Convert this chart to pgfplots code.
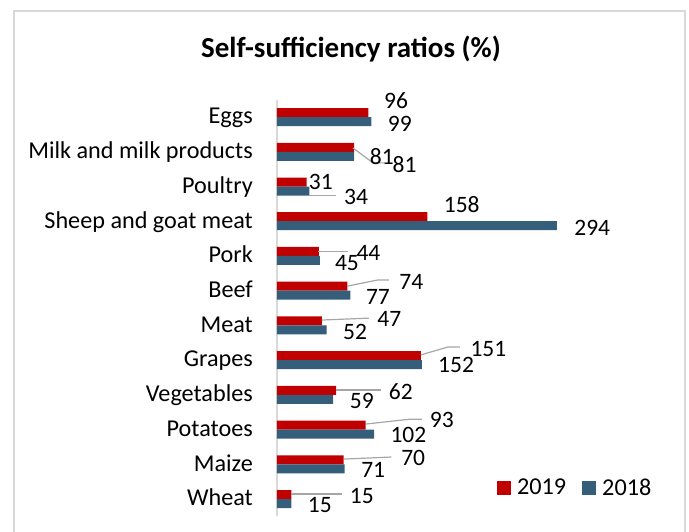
\documentclass[border=0pt]{standalone}
\usepackage{fontspec}
\setmainfont{Carlito}
\usepackage{pgfplots}
\pgfplotsset{compat=1.18}
\definecolor{cred}{RGB}{192,0,0}
\definecolor{cblue}{RGB}{53,94,122}
\definecolor{framegray}{RGB}{217,217,217}
\definecolor{leadgray}{RGB}{166,166,166}
\begin{document}
\begin{tikzpicture}[x=1pt,y=1pt]
\useasboundingbox (0,0) rectangle (689,531);
\draw[framegray, line width=2pt] (14,-10) -- (14,520) -- (685,520) -- (685,-10);
\node[font=\fontsize{29}{34}\selectfont\bfseries] at (351,482) {Self-sufficiency ratios (\%)};
\begin{axis}[
  at={(277pt,14.6pt)}, anchor=south west,
  scale only axis, width=285.7pt, height=416.7pt,
  xmin=0, xmax=300, ymin=-0.5, ymax=11.5,
  xbar, bar width=9pt,
  axis x line=none, axis y line=left,
  y axis line style={draw=framegray, line width=2pt, -},
  ytick={0,...,11},
  yticklabels={Wheat,Maize,Potatoes,Vegetables,Grapes,Meat,Beef,Pork,Sheep and goat meat,Poultry,Milk and milk products,Eggs},
  major tick length=0pt,
  yticklabel style={font=\fontsize{24.2}{29}\selectfont, anchor=base east, inner sep=0pt, xshift=-24pt, yshift=-6.8pt},
  clip=false,
  legend columns=2,
  legend style={at={(axis cs:231,0.33)}, anchor=west, draw=none, fill=none, inner sep=0pt,
    font=\fontsize{24.2}{29}\selectfont,
    nodes={inner xsep=0pt, inner ysep=0pt},
    /tikz/every even column/.append style={column sep=16pt}},
  legend image code/.code={\fill[#1] (0pt,-7pt) rectangle (14pt,7pt); \path (20pt,0pt);},
]
\addplot[fill=cred, draw=none, bar shift=4.5pt] coordinates {
 (15,0) (70,1) (93,2) (62,3) (151,4) (47,5) (74,6) (44,7) (158,8) (31,9) (81,10) (96,11)};
\addplot[fill=cblue, draw=none, bar shift=-4.5pt] coordinates {
 (15,0) (71,1) (102,2) (59,3) (152,4) (52,5) (77,6) (45,7) (294,8) (34,9) (81,10) (99,11)};
\legend{2019,2018}
% leader lines
\begin{scope}[leadgray, line width=1.2pt]
\draw (axis cs:79.8,10.11) -- (axis cs:100.8,9.68) -- (axis cs:113.4,9.68);
\draw (axis cs:33.6,8.73) -- (axis cs:62,8.73);
\draw (axis cs:43,7.14) -- (axis cs:74.6,7.14);
\draw (axis cs:73.5,6.13) -- (axis cs:106,6.31) -- (axis cs:117.6,6.31);
\draw (axis cs:47,5.155) -- (axis cs:96.6,5.21);
\draw (axis cs:151,4.15) -- (axis cs:179.6,4.38) -- (axis cs:192,4.38);
\draw (axis cs:62,3.14) -- (axis cs:109,3.14);
\draw (axis cs:93.5,2.16) -- (axis cs:139.7,2.30) -- (axis cs:152,2.30);
\draw (axis cs:70,1.15) -- (axis cs:120,1.21);
\draw (axis cs:14.7,0.145) -- (axis cs:68,0.145);
\end{scope}
% data labels
\begin{scope}[every node/.style={font=\fontsize{23.5}{28}\selectfont, inner sep=0pt}]
\node at (axis cs:125,11.46) {96};
\node at (axis cs:129,10.81) {99};
\node at (axis cs:110,9.85) {81};
\node at (axis cs:134,9.62) {81};
\node at (axis cs:46,9.13) {31};
\node at (axis cs:83,8.70) {34};
\node at (axis cs:194,8.47) {158};
\node at (axis cs:331,7.80) {294};
\node at (axis cs:96,7.08) {44};
\node at (axis cs:73.5,6.80) {45};
\node at (axis cs:141,6.25) {74};
\node at (axis cs:106,5.82) {77};
\node at (axis cs:118,5.18) {47};
\node at (axis cs:82,4.81) {52};
\node at (axis cs:222,4.32) {151};
\node at (axis cs:188,3.86) {152};
\node at (axis cs:130,3.08) {62};
\node at (axis cs:89,2.82) {59};
\node at (axis cs:173,2.28) {93};
\node at (axis cs:138,1.84) {102};
\node at (axis cs:143,1.18) {70};
\node at (axis cs:101,0.84) {71};
\node at (axis cs:89,0.09) {15};
\node at (axis cs:45,-0.17) {15};
\end{scope}
\end{axis}
\end{tikzpicture}
\end{document}
